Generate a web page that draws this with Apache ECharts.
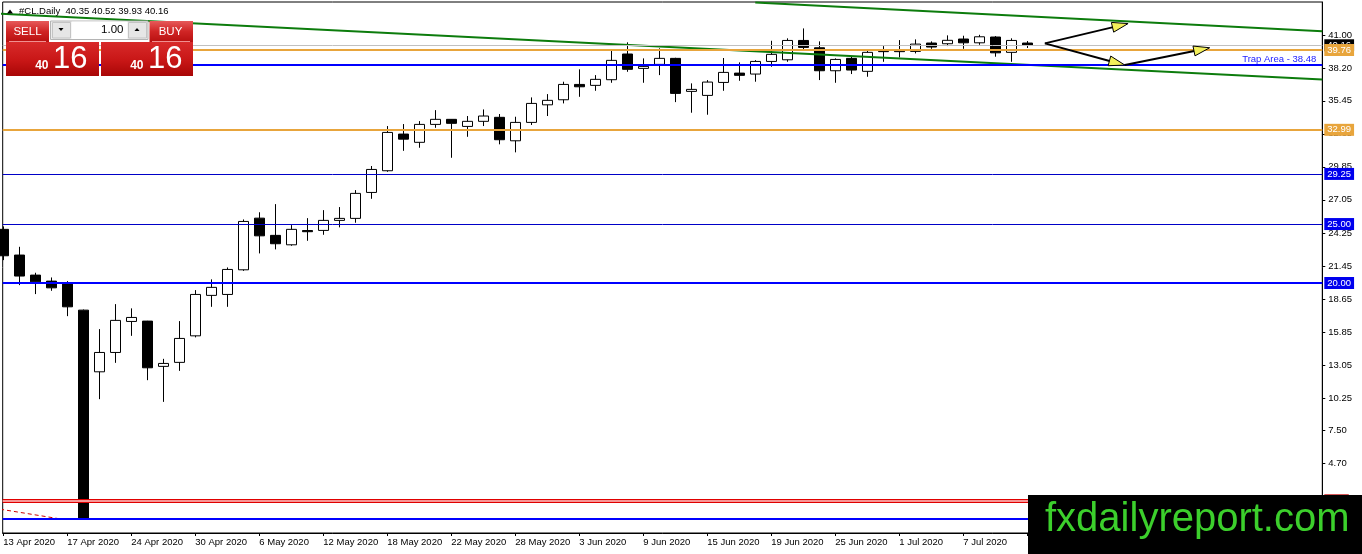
<!DOCTYPE html>
<html><head><meta charset="utf-8">
<script src="https://cdn.jsdelivr.net/npm/echarts@6/dist/echarts.min.js"></script>
<style>html,body{margin:0;padding:0;background:#fff}#c{width:1362px;height:554px}</style>
</head><body><div id="c"></div>
<script>
// ---- data ----
const dateLabels = ['13 Apr 2020','14 Apr 2020','15 Apr 2020','16 Apr 2020','17 Apr 2020','20 Apr 2020','21 Apr 2020','23 Apr 2020','24 Apr 2020','27 Apr 2020','28 Apr 2020','29 Apr 2020','30 Apr 2020','1 May 2020','4 May 2020','5 May 2020','6 May 2020','7 May 2020','8 May 2020','11 May 2020','12 May 2020','13 May 2020','14 May 2020','15 May 2020','18 May 2020','19 May 2020','20 May 2020','21 May 2020','22 May 2020','25 May 2020','26 May 2020','27 May 2020','28 May 2020','29 May 2020','1 Jun 2020','2 Jun 2020','3 Jun 2020','4 Jun 2020','5 Jun 2020','8 Jun 2020','9 Jun 2020','10 Jun 2020','11 Jun 2020','12 Jun 2020','15 Jun 2020','16 Jun 2020','17 Jun 2020','18 Jun 2020','19 Jun 2020','22 Jun 2020','23 Jun 2020','24 Jun 2020','25 Jun 2020','26 Jun 2020','29 Jun 2020','30 Jun 2020','1 Jul 2020','2 Jul 2020','3 Jul 2020','6 Jul 2020','7 Jul 2020','8 Jul 2020','9 Jul 2020','10 Jul 2020','13 Jul 2020'];
const opens  = [24.55,22.37,20.67,20.16,19.91,17.70,12.47,14.11,16.74,16.77,12.93,13.27,15.52,18.95,19.03,21.12,25.50,24.04,23.24,24.45,24.46,25.31,25.48,27.68,29.52,32.63,31.93,33.45,33.88,33.28,33.71,34.05,32.06,33.62,35.11,35.54,36.84,36.76,37.24,39.42,38.20,38.54,39.05,36.25,35.91,37.01,37.80,37.72,38.79,38.93,40.57,39.95,38.00,39.05,37.95,39.62,39.62,39.64,40.35,40.29,40.69,40.37,40.86,39.56,40.35];
const highs  = [24.80,23.07,20.87,20.47,20.16,17.75,16.09,18.21,17.85,16.79,13.57,16.77,19.40,20.31,21.32,25.39,26.00,26.69,24.91,25.50,26.18,26.44,27.88,29.92,33.31,33.48,33.73,34.66,33.90,34.16,34.72,34.33,34.10,35.74,36.02,37.07,38.12,37.63,39.69,40.41,39.05,39.90,39.10,36.93,37.21,39.08,38.71,38.90,40.54,40.75,41.59,40.49,39.05,39.19,39.69,40.09,40.60,40.66,40.49,41.00,40.97,41.05,40.94,40.75,40.52];
const lows   = [21.94,19.82,19.06,19.34,17.19,0.01,10.15,13.23,15.52,11.76,9.92,12.55,15.39,17.98,17.98,21.03,22.51,22.85,23.16,23.58,24.09,24.72,25.11,27.14,29.43,31.21,31.47,33.16,30.62,32.40,33.31,31.76,31.08,33.40,34.16,35.23,35.79,36.30,36.98,37.91,36.98,37.63,35.34,34.44,34.27,36.30,37.15,37.07,38.34,38.76,39.84,37.21,36.98,37.72,37.49,38.76,39.13,39.47,39.86,40.09,39.86,40.20,39.19,38.76,39.93];
const closes = [22.31,20.59,20.10,19.59,17.98,0.01,14.11,16.83,17.08,12.81,13.18,15.30,19.03,19.63,21.15,25.22,24.00,23.33,24.55,24.35,25.31,25.48,27.60,29.63,32.77,32.20,33.45,33.88,33.54,33.71,34.16,32.15,33.62,35.23,35.49,36.84,36.64,37.27,38.88,38.12,38.37,39.05,36.08,36.42,37.04,37.86,37.61,38.79,39.39,40.57,39.98,38.00,38.96,38.06,39.56,39.66,39.68,40.26,40.01,40.58,40.37,40.88,39.52,40.57,40.16];
const yTickValues = [41.00,38.20,35.45,32.65,29.85,27.05,24.25,21.45,18.65,15.85,13.05,10.25,7.50,4.70];
const xLabelIndexes = [0,4,8,12,16,20,24,28,32,36,40,44,48,52,56,60,64];
const orangeLevels = [39.76, 32.99];
const blueThinLevels = [29.25, 25.00];
const blueThickLevels = [20.00];
const trapLevel = 38.48;
const zeroLevel = 0.00;
const redLevel = 1.57;
const bidPrice = 40.16;
const lowerChannel = [[-0.2, 42.83], [82.44, 37.26]];
const upperChannel = [[47.0, 43.79], [82.44, 41.34]];
const redDashed = [[-0.2, 0.82], [3.4, 0.03]];
const arrows = [[65.1, 40.32, 70.3, 42.00], [65.1, 40.32, 70.1, 38.48], [70.1, 38.48, 75.4, 39.95]];
const lotSize = '1.00';
const symbolName = '#CL.Daily';

// ---- chart ----
const FONT = 'Liberation Sans';
const candleData = opens.map((o, i) => [i, o, closes[i], lows[i], highs[i]]);
const last = opens.length - 1;
const fmt = v => v.toFixed(2);

function lvl(v, color, width, labelBg, labelText) {
  const d = { yAxis: v, lineStyle: { color: color, width: width, type: 'solid' } };
  if (labelBg) {
    d.label = { show: true, position: 'end', distance: 2, formatter: labelText || fmt(v),
      backgroundColor: labelBg, color: '#fff', fontSize: 9.5, fontFamily: FONT,
      padding: [1, 3, 0, 3], lineHeight: 11 };
  } else {
    d.label = { show: false };
  }
  return d;
}

const markData = [];
markData.push(lvl(bidPrice, '#c0c0c0', 1, '#000'));
orangeLevels.forEach(v => markData.push(lvl(v, '#e8a53c', 2, '#e8a53c')));
blueThinLevels.forEach(v => markData.push(lvl(v, '#0000c8', 1, '#0000ee')));
blueThickLevels.forEach(v => markData.push(lvl(v, '#0000ff', 2, '#0000ee')));
markData.push(lvl(zeroLevel, '#0000ff', 2, null));
markData.push(lvl(redLevel, '#e00000', 4, '#c00000', fmt(redLevel)));
markData.push(lvl(redLevel, '#ffc8c8', 1.5, null));
const trap = lvl(trapLevel, '#0000ff', 2, null);
trap.label = { show: true, position: 'insideEndTop', distance: [6, 1], formatter: 'Trap Area - ' + fmt(trapLevel),
  color: '#2020ff', fontSize: 9.5, fontFamily: FONT };
markData.push(trap);

const chart = echarts.init(document.getElementById('c'), null, { renderer: 'canvas' });

const redGradBtn = { type: 'linear', x: 0, y: 0, x2: 0, y2: 1, colorStops: [
  { offset: 0, color: '#e65a5a' }, { offset: 0.5, color: '#d02525' }, { offset: 1, color: '#b81010' }] };
const redGradBig = { type: 'linear', x: 0, y: 0, x2: 0, y2: 1, colorStops: [
  { offset: 0, color: '#d82a2a' }, { offset: 0.55, color: '#c81616' }, { offset: 1, color: '#a80606' }] };

const titleText = symbolName + '  ' + [opens[last], highs[last], lows[last], closes[last]].map(fmt).join(' ');
const bidStr = fmt(closes[last]);
const bidBig = bidStr.split('.')[0];
const bidSmall = bidStr.split('.')[1];

chart.setOption({
  animation: false,
  backgroundColor: '#fff',
  grid: { left: 2.7, right: 39.7, top: 2, bottom: 21, show: true, borderColor: '#000', borderWidth: 1,
    backgroundColor: '#fff', outerBoundsMode: 'none' },
  xAxis: {
    type: 'value', min: -0.0375, max: 82.44, position: 'bottom',
    axisLine: { show: true, onZero: false, lineStyle: { color: '#000', width: 1 } },
    axisTick: { show: true, inside: false, customValues: xLabelIndexes, length: 3, lineStyle: { color: '#000' } },
    axisLabel: { show: true, customValues: xLabelIndexes, align: 'left', margin: 4,
      formatter: v => dateLabels[Math.round(v)] || '', color: '#000', fontSize: 9.5, fontFamily: FONT },
    splitLine: { show: false }
  },
  yAxis: {
    type: 'value', min: -1.2, max: 43.83, position: 'right',
    axisLine: { show: true, onZero: false, lineStyle: { color: '#000', width: 1 } },
    axisTick: { show: true, inside: false, customValues: yTickValues, length: 3, lineStyle: { color: '#000' } },
    axisLabel: { show: true, customValues: yTickValues, formatter: v => fmt(v), margin: 6,
      color: '#000', fontSize: 9.5, fontFamily: FONT },
    splitLine: { show: false }
  },
  series: [
    {
      type: 'candlestick', data: candleData, encode: { x: 0, y: [1, 2, 3, 4] },
      barWidth: 10, z: 2,
      itemStyle: { color: '#fff', color0: '#000', borderColor: '#000', borderColor0: '#000',
        borderColorDoji: '#000', borderWidth: 1 }
    },
    {
      type: 'line', data: [], z: 5, silent: true,
      markLine: { silent: true, symbol: ['none', 'none'], animation: false, data: markData }
    },
    { type: 'line', data: lowerChannel, symbol: 'none', silent: true, z: 4,
      lineStyle: { color: '#0c7c0c', width: 2 } },
    { type: 'line', data: upperChannel, symbol: 'none', silent: true, z: 4,
      lineStyle: { color: '#0c7c0c', width: 2 } },
    { type: 'line', data: redDashed, symbol: 'none', silent: true, z: 4,
      lineStyle: { color: '#cc0000', width: 1, type: [4, 3] } },
    {
      type: 'custom', data: arrows, encode: { x: [0, 2], y: [1, 3] }, z: 6, silent: true, clip: false,
      renderItem: function (params, api) {
        const p1 = api.coord([api.value(0), api.value(1)]);
        const p2 = api.coord([api.value(2), api.value(3)]);
        const dx = p2[0] - p1[0], dy = p2[1] - p1[1];
        const len = Math.sqrt(dx * dx + dy * dy);
        const ux = dx / len, uy = dy / len;
        const hl = 16, hw = 5;
        const bx = p2[0] - ux * hl, by = p2[1] - uy * hl;
        return { type: 'group', children: [
          { type: 'line', shape: { x1: p1[0], y1: p1[1], x2: bx + ux * 4, y2: by + uy * 4 },
            style: { stroke: '#000', lineWidth: 2 } },
          { type: 'polygon', shape: { points: [[p2[0], p2[1]], [bx - uy * hw, by + ux * hw], [bx + uy * hw, by - ux * hw]] },
            style: { fill: '#f3ef5a', stroke: '#000', lineWidth: 1 } }
        ] };
      }
    }
  ],
  graphic: [
    // title
    { type: 'polygon', z: 50, shape: { points: [[7, 13.5], [13, 13.5], [10, 9.5]] }, style: { fill: '#000' } },
    { type: 'text', z: 50, x: 19, y: 11, style: { text: titleText, fill: '#000', fontSize: 9.5, fontFamily: FONT, verticalAlign: 'middle' } },
    // SELL button
    { type: 'rect', z: 50, shape: { x: 6, y: 21, width: 43, height: 21 }, style: { fill: redGradBtn } },
    { type: 'text', z: 51, x: 27.5, y: 31.5, style: { text: 'SELL', fill: '#fff', fontSize: 11.5, fontFamily: FONT, align: 'center', verticalAlign: 'middle' } },
    { type: 'line', z: 51, shape: { x1: 9, y1: 41.5, x2: 46, y2: 41.5 }, style: { stroke: '#f09090', lineWidth: 1 } },
    // lot box
    { type: 'rect', z: 50, shape: { x: 50.5, y: 21, width: 97.5, height: 18.5 }, style: { fill: '#ececec', stroke: '#b4b4b4', lineWidth: 1 } },
    { type: 'rect', z: 51, shape: { x: 52.5, y: 22.5, width: 18, height: 15.5 }, style: { fill: '#e6e6e6', stroke: '#c4c4c4', lineWidth: 1 } },
    { type: 'polygon', z: 52, shape: { points: [[58.5, 28], [63.5, 28], [61, 31]] }, style: { fill: '#000' } },
    { type: 'rect', z: 51, shape: { x: 71.5, y: 21.5, width: 56, height: 17.5 }, style: { fill: '#fff' } },
    { type: 'text', z: 52, x: 123.5, y: 30, style: { text: lotSize, fill: '#000', fontSize: 11.5, fontFamily: FONT, align: 'right', verticalAlign: 'middle' } },
    { type: 'rect', z: 51, shape: { x: 128.5, y: 22.5, width: 18, height: 15.5 }, style: { fill: '#e6e6e6', stroke: '#c4c4c4', lineWidth: 1 } },
    { type: 'polygon', z: 52, shape: { points: [[134.5, 31], [139.5, 31], [137, 28]] }, style: { fill: '#000' } },
    // BUY button
    { type: 'rect', z: 50, shape: { x: 149.5, y: 21, width: 43.5, height: 21 }, style: { fill: redGradBtn } },
    { type: 'text', z: 51, x: 170.5, y: 31.5, style: { text: 'BUY', fill: '#fff', fontSize: 11.5, fontFamily: FONT, align: 'center', verticalAlign: 'middle' } },
    { type: 'line', z: 51, shape: { x1: 152, y1: 41.5, x2: 190, y2: 41.5 }, style: { stroke: '#f09090', lineWidth: 1 } },
    // big price boxes
    { type: 'rect', z: 50, shape: { x: 6, y: 42, width: 93, height: 34 }, style: { fill: redGradBig } },
    { type: 'rect', z: 50, shape: { x: 101, y: 42, width: 92, height: 34 }, style: { fill: redGradBig } },
    { type: 'text', z: 51, x: 48.5, y: 66, style: { text: bidBig, fill: '#fff', fontSize: 12, fontWeight: 'bold', fontFamily: FONT, align: 'right', verticalAlign: 'middle' } },
    { type: 'text', z: 51, x: 53, y: 59.5, style: { text: bidSmall, fill: '#fff', fontSize: 31, fontFamily: FONT, align: 'left', verticalAlign: 'middle' } },
    { type: 'text', z: 51, x: 143.5, y: 66, style: { text: bidBig, fill: '#fff', fontSize: 12, fontWeight: 'bold', fontFamily: FONT, align: 'right', verticalAlign: 'middle' } },
    { type: 'text', z: 51, x: 148, y: 59.5, style: { text: bidSmall, fill: '#fff', fontSize: 31, fontFamily: FONT, align: 'left', verticalAlign: 'middle' } },
    // watermark logo
    { type: 'rect', z: 60, shape: { x: 1028, y: 495, width: 334, height: 59 }, style: { fill: '#000' } },
    { type: 'text', z: 61, x: 1045, y: 520, style: { text: 'fxdailyreport.com', fill: '#3ccf2c', fontSize: 40, fontFamily: FONT, align: 'left', verticalAlign: 'middle' } }
  ]
});
</script>
</body></html>
